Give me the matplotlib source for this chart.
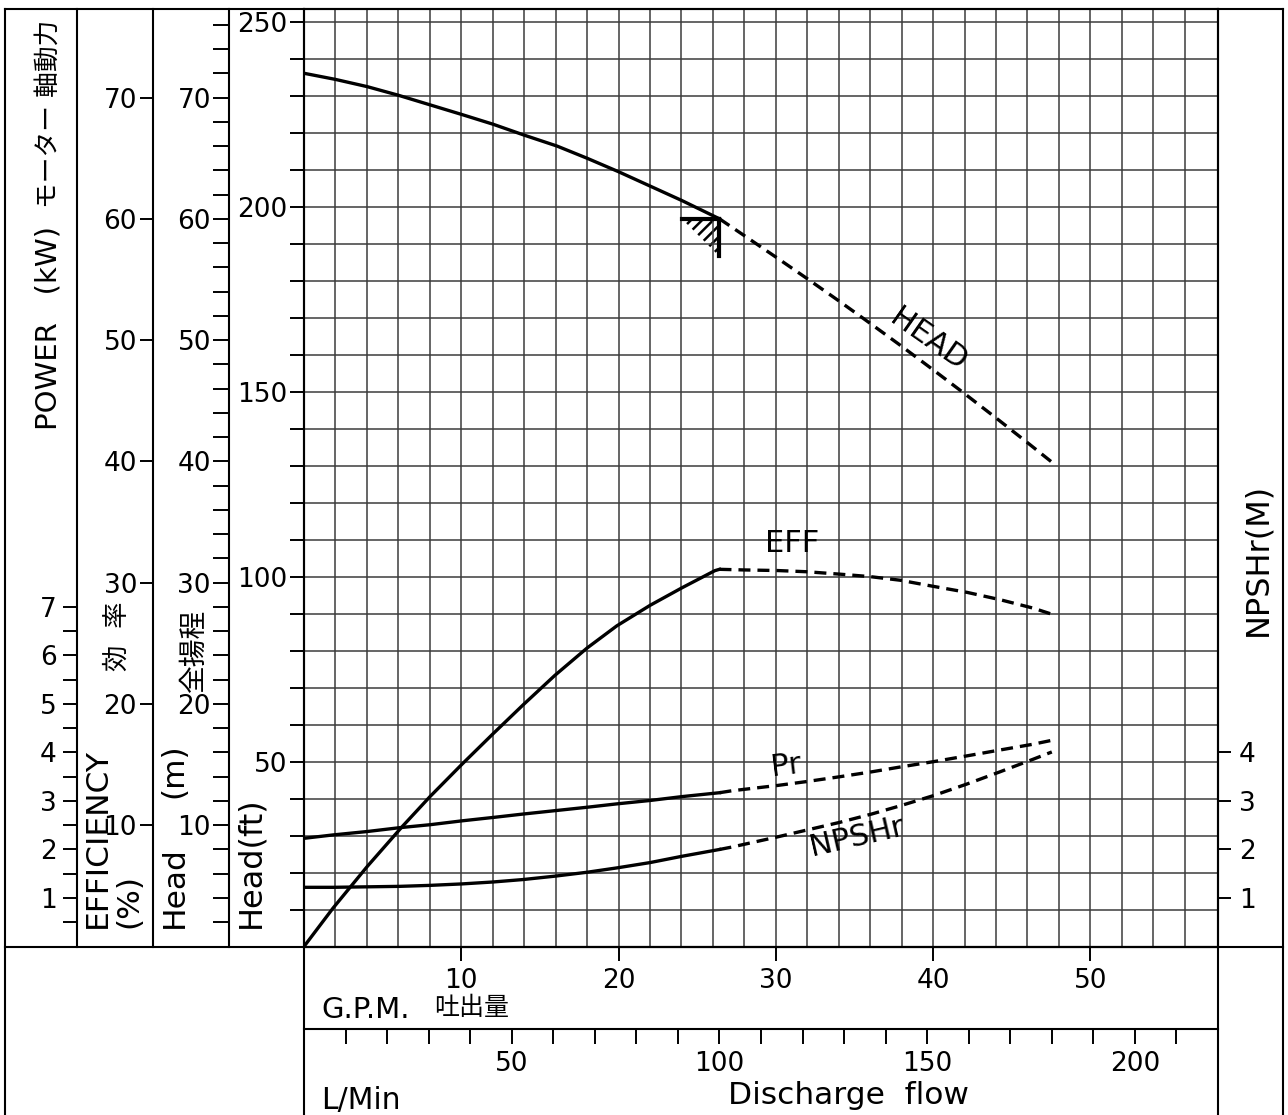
import matplotlib
matplotlib.use("Agg")
import matplotlib.pyplot as plt
from matplotlib.lines import Line2D
from matplotlib.patches import Polygon
from matplotlib.ticker import FixedLocator

# ---------------- curve data (flow in L/min) ----------------
head_q = [0, 7.5, 15.2, 22.6, 30.3, 38.0, 45.5, 53.0, 60.9, 68.1, 75.6, 83.3, 91.0, 100]
head_m = [72.0, 71.5, 70.9, 70.2, 69.4, 68.6, 67.8, 66.9, 66.0, 65.0, 63.9, 62.7, 61.5, 60.0]
head_q_ext = [100, 106.6, 113.9, 121.1, 129.0, 136.2, 143.5, 151.4, 158.6, 166.8, 174.7, 180]
head_m_ext = [60.0, 58.47, 56.77, 55.07, 53.17, 51.40, 49.58, 47.56, 45.69, 43.52, 41.39, 39.94]

eff_q = [0, 7.0, 15.2, 23.6, 30.3, 38.0, 45.5, 52.7, 60.4, 68.1, 75.3, 83.3, 91.0, 98.9, 100]
eff_pct = [0, 3.17, 6.59, 9.87, 12.35, 15.02, 17.54, 19.91, 22.36, 24.6, 26.44, 28.13, 29.58, 30.99, 31.1]
eff_q_ext = [100, 105.7, 113.9, 121.0, 129.0, 136.2, 143.5, 151.4, 159.6, 167.5, 175.5, 180]
eff_pct_ext = [31.1, 31.05, 31.0, 30.9, 30.7, 30.5, 30.2, 29.7, 29.2, 28.6, 27.9, 27.4]

curve_q = [0, 7.0, 15.2, 23.1, 30.3, 38.0, 45.5, 52.7, 60.4, 68.1, 75.3, 83.3, 91.0, 100]
power_kw = [2.23, 2.30, 2.37, 2.45, 2.51, 2.59, 2.66, 2.73, 2.80, 2.87, 2.94, 3.01, 3.09, 3.17]
npshr_m = [1.22, 1.22, 1.23, 1.24, 1.26, 1.29, 1.33, 1.38, 1.45, 1.53, 1.62, 1.73, 1.86, 2.00]

ext_q = [100, 103, 114, 121, 129, 136.6, 143.5, 151.5, 159.6, 167.5, 175.5, 180]
power_kw_ext = [3.17, 3.21, 3.32, 3.40, 3.50, 3.60, 3.70, 3.81, 3.93, 4.05, 4.17, 4.25]
npshr_m_ext = [2.00, 2.05, 2.26, 2.40, 2.56, 2.73, 2.90, 3.11, 3.35, 3.60, 3.86, 4.01]

rated_q = 100
rated_head = 60

# scale labels
ft_major = [50, 100, 150, 200, 250]
m_major = [10, 20, 30, 40, 50, 60, 70]
kw_major = [1, 2, 3, 4, 5, 6, 7]
npsh_major = [1, 2, 3, 4]
gpm_major = [10, 20, 30, 40, 50]
lpm_major = [50, 100, 150, 200]

# ---------------- layout (pixels) ----------------
W, H = 1288, 1115
X0, X1 = 304, 1218
Y_TOP, Y_BOT = 9, 946.5
Q_MAX = 220.0
H_TOP = 77.3
M_PER_KW = 4.0
LPM_PER_GAL = 3.7854
FT = 0.3048
LW_FRAME = 1.5
FONT = ['DejaVu Sans', 'Noto Sans CJK JP']

plt.rcParams['font.family'] = FONT
plt.rcParams['hatch.linewidth'] = 1.8


def xfrac(px):
    return (px - X0) / (X1 - X0)


fig = plt.figure(figsize=(W / 100, H / 100), dpi=100)
ax = fig.add_axes([X0 / W, 1 - Y_BOT / H, (X1 - X0) / W, (Y_BOT - Y_TOP) / H])
ax.set_xlim(0, Q_MAX)
ax.set_ylim(0, H_TOP)

# grid: every 2 GPM and every 10 ft
ax.set_xticks([g * LPM_PER_GAL for g in range(2, 58, 2)])
ax.set_yticks([f * FT for f in range(10, 260, 10)])
ax.tick_params(length=0, labelbottom=False, labelleft=False)
ax.grid(True, color='#3c3c3c', lw=1.1)
for s in ax.spines.values():
    s.set_linewidth(LW_FRAME)

tick_kw = dict(direction='out', width=1.4, labelsize=19, colors='black')

# Head (ft) column
ax_ft = ax.secondary_yaxis(0, functions=(lambda m: m / FT, lambda f: f * FT))
ax_ft.set_yticks(ft_major)
ax_ft.yaxis.set_minor_locator(FixedLocator(list(range(10, 260, 10))))
ax_ft.tick_params(which='both', length=10, pad=2, **tick_kw)
ax_ft.spines['left'].set_linewidth(LW_FRAME)

# Head (m) column
ax_m = ax.secondary_yaxis(xfrac(229), functions=(lambda m: m, lambda m: m))
ax_m.set_yticks(m_major)
ax_m.yaxis.set_minor_locator(FixedLocator(list(range(2, 78, 2))))
ax_m.tick_params(which='both', length=11.5, pad=1.5, **tick_kw)
ax_m.spines['left'].set_linewidth(LW_FRAME)

# efficiency column
ax_eff = ax.twinx()
ax_eff.set_ylim(0, H_TOP)
ax_eff.yaxis.set_ticks_position('left')
ax_eff.spines['left'].set_position(('axes', xfrac(153)))
ax_eff.spines['left'].set_linewidth(LW_FRAME)
for k in ('right', 'top', 'bottom'):
    ax_eff.spines[k].set_visible(False)
ax_eff.set_yticks(m_major)
ax_eff.tick_params(length=9.5, pad=2, **tick_kw)

# power column
ax_kw = ax.twinx()
ax_kw.set_ylim(0, H_TOP / M_PER_KW)
ax_kw.yaxis.set_ticks_position('left')
ax_kw.spines['left'].set_position(('axes', xfrac(77)))
ax_kw.spines['left'].set_linewidth(LW_FRAME)
for k in ('right', 'top', 'bottom'):
    ax_kw.spines[k].set_visible(False)
ax_kw.set_yticks(kw_major)
ax_kw.yaxis.set_minor_locator(FixedLocator([k + 0.5 for k in range(0, 7)]))
ax_kw.tick_params(which='both', length=10, pad=4.5, **tick_kw)

# NPSHr (right)
ax_np = ax.twinx()
ax_np.set_ylim(0, H_TOP / M_PER_KW)
for k in ('left', 'top', 'bottom'):
    ax_np.spines[k].set_visible(False)
ax_np.spines['right'].set_linewidth(LW_FRAME)
ax_np.set_yticks(npsh_major)
ax_np.tick_params(length=9, pad=6, **tick_kw)

# flow axes
ax_gpm = ax.secondary_xaxis(0, functions=(lambda q: q / LPM_PER_GAL, lambda g: g * LPM_PER_GAL))
ax_gpm.set_xticks(gpm_major)
ax_gpm.tick_params(length=10, pad=5.5, **tick_kw)
ax_gpm.spines['bottom'].set_linewidth(LW_FRAME)

ax_lpm = ax.secondary_xaxis(-(1028.5 - Y_BOT) / (Y_BOT - Y_TOP), functions=(lambda q: q, lambda q: q))
ax_lpm.set_xticks(lpm_major)
ax_lpm.xaxis.set_minor_locator(FixedLocator([q for q in range(10, 220, 10) if q % 50]))
ax_lpm.tick_params(which='both', length=10.5, pad=5.5, **tick_kw)
ax_lpm.spines['bottom'].set_linewidth(LW_FRAME)

# ---------------- curves ----------------
LW = 2.4
DASH = (0, (3.6, 2.1))
ax.plot(head_q, head_m, color='black', lw=LW)
ax.plot(head_q_ext, head_m_ext, color='black', lw=LW, ls=DASH)
ax_eff.plot(eff_q, eff_pct, color='black', lw=LW)
ax_eff.plot(eff_q_ext, eff_pct_ext, color='black', lw=LW, ls=DASH)
ax_kw.plot(curve_q, power_kw, color='black', lw=LW)
ax_kw.plot(ext_q, power_kw_ext, color='black', lw=LW, ls=DASH)
ax_np.plot(curve_q, npshr_m, color='black', lw=LW)
ax_np.plot(ext_q, npshr_m_ext, color='black', lw=LW, ls=DASH)

# rated point symbol
bar_q, bar_h = 9.1, 3.05
tri = Polygon([(rated_q - bar_q, rated_head), (rated_q, rated_head), (rated_q, rated_head - bar_h)],
              closed=True, fill=False, hatch='///', edgecolor='black', lw=0)
ax.add_patch(tri)
ax.plot([rated_q - bar_q, rated_q], [rated_head, rated_head], color='black', lw=3.0)
ax.plot([rated_q, rated_q], [rated_head, rated_head - bar_h], color='black', lw=3.0)

# curve labels
lab_kw = dict(fontsize=22, ha='center', va='center', rotation_mode='anchor')
ax.text(150.2, 50.0, 'HEAD', rotation=-35, **lab_kw)
ax_eff.text(117.5, 33.2, 'EFF', **lab_kw)
ax_kw.text(116, 3.73, 'Pr', rotation=7, **lab_kw)
ax_np.text(133, 2.25, 'NPSHr', rotation=13, **lab_kw)


# ---------------- frame lines ----------------
def frame_line(xs, ys):
    fig.add_artist(Line2D([x / W for x in xs], [1 - y / H for y in ys],
                          transform=fig.transFigure, color='black', lw=LW_FRAME))


frame_line([5, 1283], [Y_TOP, Y_TOP])
frame_line([5, 1283], [Y_BOT, Y_BOT])
frame_line([5, 5], [Y_TOP, H])
frame_line([1283, 1283], [Y_TOP, H])
frame_line([X0, X0], [Y_BOT, H])
frame_line([X1, X1], [Y_BOT, H])


# ---------------- axis titles ----------------
def px_text(x, y, s, **kw):
    kw.setdefault('rotation_mode', 'anchor')
    fig.text(x / W, 1 - y / H, s, **kw)


px_text(49, 430, 'POWER   (kW)', rotation=90, ha='left', va='center', fontsize=21)
px_text(49, 208, 'モーター 軸動力', rotation=90, ha='left', va='center', fontsize=18.5)
px_text(97, 928, 'EFFICIENCY', rotation=90, ha='left', va='center', fontsize=22.5)
px_text(129, 928, '(%)', rotation=90, ha='left', va='center', fontsize=22.5)
px_text(118, 636, '効  率', rotation=90, ha='center', va='center', fontsize=19)
px_text(174, 928, 'Head', rotation=90, ha='left', va='center', fontsize=22.5)
px_text(174, 798, '(m)', rotation=90, ha='left', va='center', fontsize=22.5)
px_text(194, 650, '全揚程', rotation=90, ha='center', va='center', fontsize=20)
px_text(251, 928, 'Head(ft)', rotation=90, ha='left', va='center', fontsize=23)
px_text(1258, 559, 'NPSHr(M)', rotation=90, ha='center', va='center', fontsize=23)
px_text(321, 1010, 'G.P.M.', ha='left', va='center', fontsize=21)
px_text(434, 1008, '吐出量', ha='left', va='center', fontsize=18)
px_text(321, 1100, 'L/Min', ha='left', va='center', fontsize=21.5)
px_text(848, 1095, 'Discharge  flow', ha='center', va='center', fontsize=22.5)

fig.savefig('out.png', dpi=100, facecolor='white')
